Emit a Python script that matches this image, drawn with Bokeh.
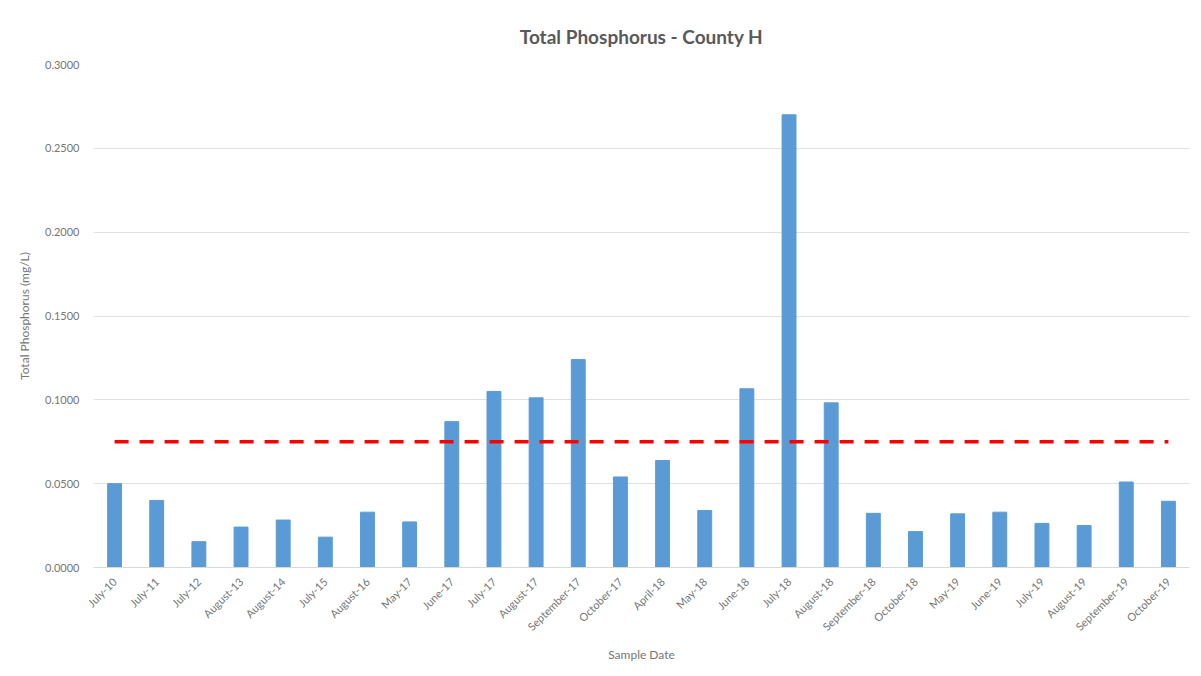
from math import pi
from bokeh.plotting import figure
from bokeh.models import ColumnDataSource, FixedTicker, NumeralTickFormatter
from bokeh.embed import file_html
from bokeh.resources import INLINE

dates = ["July-10", "July-11", "July-12", "August-13", "August-14", "July-15",
         "August-16", "May-17", "June-17", "July-17", "August-17", "September-17",
         "October-17", "April-18", "May-18", "June-18", "July-18", "August-18",
         "September-18", "October-18", "May-19", "June-19", "July-19", "August-19",
         "September-19", "October-19"]
phosphorus = [0.050, 0.040, 0.0154, 0.0241, 0.0283, 0.0181,
              0.0330, 0.0272, 0.0870, 0.1050, 0.1012, 0.1240,
              0.0540, 0.0638, 0.0340, 0.1066, 0.2700, 0.0982,
              0.0323, 0.0214, 0.0320, 0.0330, 0.0263, 0.0250,
              0.0510, 0.0395]
threshold = 0.075
y_ticks = [0.0, 0.05, 0.10, 0.15, 0.20, 0.25, 0.30]

FONT = "Lato"
GREY = "#595959"
LIGHT = "#767676"

src = ColumnDataSource(dict(date=dates, tp=phosphorus, limit=[threshold] * len(dates)))

p = figure(x_range=dates, y_range=(0, 0.3), width=1193, height=668,
           output_backend="svg", toolbar_location=None,
           min_border_left=93, min_border_right=4, min_border_top=64,
           min_border_bottom=101, outline_line_color=None,
           title="Total Phosphorus - County H")

p.vbar(x="date", top="tp", width=0.33, source=src, color="#5b9bd5")
p.line(x="date", y="limit", source=src, line_color="#ff0000", line_width=3.5,
       line_dash="14 11")

p.title.align = "center"
p.title.vertical_align = "top"
p.title.offset = -36
p.title.text_font = FONT
p.title.text_font_size = "19px"
p.title.text_color = GREY
p.title.text_font_style = "bold"
p.title.standoff = 30

p.xgrid.grid_line_color = None
p.ygrid.grid_line_color = "#e0e0e0"

p.yaxis.ticker = FixedTicker(ticks=y_ticks)
p.yaxis.formatter = NumeralTickFormatter(format="0.0000")
p.yaxis.axis_line_color = None
p.yaxis.major_tick_line_color = None
p.yaxis.minor_tick_line_color = None
p.yaxis.axis_label = "Total Phosphorus (mg/L)"

p.xaxis.axis_line_color = "#d9d9d9"
p.xaxis.major_tick_line_color = None
p.xaxis.major_label_orientation = pi / 4
p.xaxis.axis_label = "Sample Date"
p.x_range.range_padding = 0

for ax in (p.xaxis[0], p.yaxis[0]):
    ax.major_label_text_font = FONT
    ax.major_label_text_font_size = "11px"
    ax.major_label_text_color = LIGHT
    ax.axis_label_text_font = FONT
    ax.axis_label_text_font_size = "12px"
    ax.axis_label_text_color = LIGHT
    ax.axis_label_text_font_style = "normal"

p.yaxis.major_label_standoff = 8
p.yaxis.axis_label_standoff = 10
p.xaxis.major_label_standoff = 6
p.xaxis.axis_label_standoff = 6

open("out.html", "w").write(file_html(p, INLINE))
